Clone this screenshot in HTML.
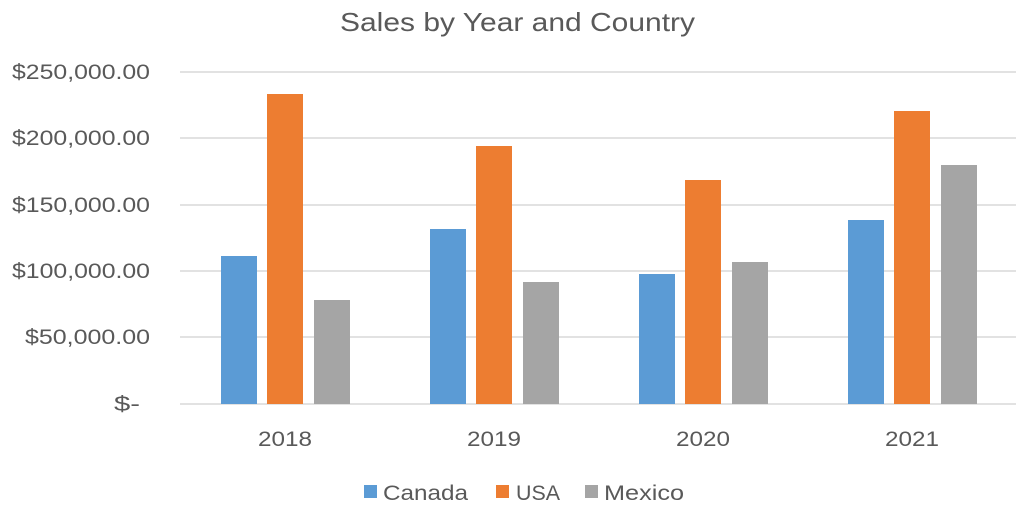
<!DOCTYPE html>
<html><head><meta charset="utf-8"><style>
html,body{margin:0;padding:0;background:#fff}
svg{display:block}
text{font-family:"Liberation Sans",sans-serif;fill:#595959}
</style></head><body>
<svg width="1032" height="517" viewBox="0 0 1032 517">
<rect width="1032" height="517" fill="#fff"/>
<text x="340" y="31" font-size="26" textLength="355" lengthAdjust="spacingAndGlyphs">Sales by Year and Country</text>
<g stroke="#d9d9d9" stroke-width="1.5">
<line x1="180" y1="72" x2="1016" y2="72"/>
<line x1="180" y1="138" x2="1016" y2="138"/>
<line x1="180" y1="205" x2="1016" y2="205"/>
<line x1="180" y1="271" x2="1016" y2="271"/>
<line x1="180" y1="337" x2="1016" y2="337"/>
<line x1="180" y1="404" x2="1016" y2="404"/>
</g>
<g font-size="21">
<text x="12" y="79" textLength="138" lengthAdjust="spacingAndGlyphs">$250,000.00</text>
<text x="12" y="145" textLength="138" lengthAdjust="spacingAndGlyphs">$200,000.00</text>
<text x="12" y="212" textLength="138" lengthAdjust="spacingAndGlyphs">$150,000.00</text>
<text x="12" y="278" textLength="138" lengthAdjust="spacingAndGlyphs">$100,000.00</text>
<text x="25" y="344" textLength="125" lengthAdjust="spacingAndGlyphs">$50,000.00</text>
<text x="114" y="411" textLength="26" lengthAdjust="spacingAndGlyphs">$-</text>
</g>
<g fill="#5B9BD5">
<rect x="221" y="256" width="36" height="148"/>
<rect x="430" y="229" width="36" height="175"/>
<rect x="639" y="274" width="36" height="130"/>
<rect x="848" y="220" width="36" height="184"/>
</g>
<g fill="#ED7D31">
<rect x="267" y="94" width="36" height="310"/>
<rect x="476" y="146" width="36" height="258"/>
<rect x="685" y="180" width="36" height="224"/>
<rect x="894" y="111" width="36" height="293"/>
</g>
<g fill="#A5A5A5">
<rect x="314" y="300" width="36" height="104"/>
<rect x="523" y="282" width="36" height="122"/>
<rect x="732" y="262" width="36" height="142"/>
<rect x="941" y="165" width="36" height="239"/>
</g>
<g font-size="21">
<text x="258" y="446" textLength="54" lengthAdjust="spacingAndGlyphs">2018</text>
<text x="467" y="446" textLength="54" lengthAdjust="spacingAndGlyphs">2019</text>
<text x="676" y="446" textLength="54" lengthAdjust="spacingAndGlyphs">2020</text>
<text x="885" y="446" textLength="54" lengthAdjust="spacingAndGlyphs">2021</text>
</g>
<g font-size="21">
<rect x="364" y="485" width="13" height="13" fill="#5B9BD5"/>
<text x="383" y="500" textLength="85" lengthAdjust="spacingAndGlyphs">Canada</text>
<rect x="496" y="485" width="13" height="13" fill="#ED7D31"/>
<text x="516" y="500" textLength="44" lengthAdjust="spacingAndGlyphs">USA</text>
<rect x="585" y="485" width="13" height="13" fill="#A5A5A5"/>
<text x="604" y="500" textLength="80" lengthAdjust="spacingAndGlyphs">Mexico</text>
</g>
</svg>
</body></html>
